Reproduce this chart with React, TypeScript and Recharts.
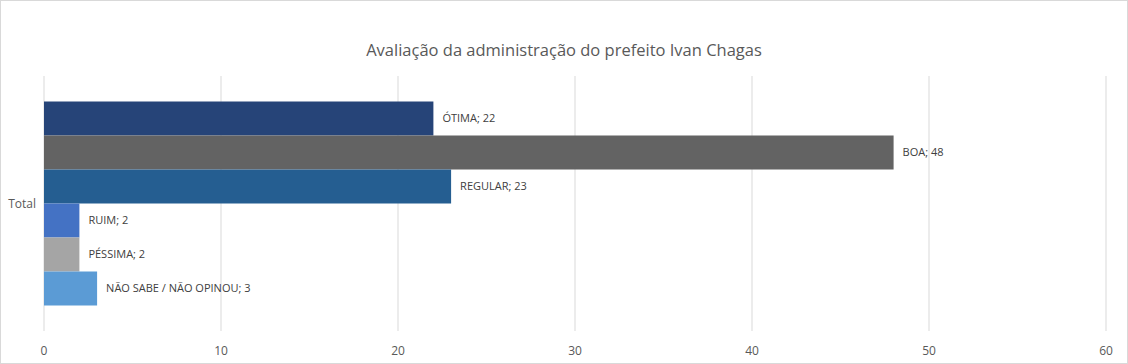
import { BarChart, Bar, XAxis, YAxis, CartesianGrid, LabelList } from 'recharts';

const categories = ['Total'];
const seriesNames = ['ÓTIMA', 'BOA', 'REGULAR', 'RUIM', 'PÉSSIMA', 'NÃO SABE / NÃO OPINOU'];
const seriesValues = [22, 48, 23, 2, 2, 3];
const xTicks = [0, 10, 20, 30, 40, 50, 60];

const seriesColors = ['#264478', '#636363', '#255e91', '#4472c4', '#a5a5a5', '#5b9bd5'];

const data = categories.map((cat) => {
  const row: Record<string, string | number> = { name: cat };
  seriesNames.forEach((s, i) => {
    row[s] = seriesValues[i];
  });
  return row;
});

const font = '"Open Sans", sans-serif';

export default function App() {
  return (
    <div
      style={{
        position: 'absolute',
        left: 0,
        top: 0,
        width: 1128,
        height: 364,
        boxSizing: 'border-box',
        border: '1px solid #d9d9d9',
        background: '#fff',
        fontFamily: font,
      }}
    >
      <div
        style={{
          position: 'absolute',
          left: 0,
          right: 0,
          top: 37,
          textAlign: 'center',
          fontSize: 16.5,
          color: '#595959',
        }}
      >
        Avaliação da administração do prefeito Ivan Chagas
      </div>
      <BarChart
        width={1126}
        height={362}
        data={data}
        layout="vertical"
        margin={{ top: 75, right: 21, bottom: 0, left: 0 }}
        barCategoryGap="10%"
        barGap={0}
      >
        <CartesianGrid horizontal={false} stroke="#d9d9d9" />
        <XAxis
          type="number"
          domain={[0, 60]}
          ticks={xTicks}
          axisLine={false}
          tickLine={false}
          tickMargin={9}
          height={32}
          tick={{ fill: '#595959', fontSize: 12, fontFamily: font }}
        />
        <YAxis
          type="category"
          dataKey="name"
          width={43}
          axisLine={false}
          tickLine={false}
          tick={{ fill: '#595959', fontSize: 12, fontFamily: font }}
        />
        {seriesNames.map((s, i) => (
          <Bar key={s} dataKey={s} fill={seriesColors[i]} isAnimationActive={false}>
            <LabelList
              dataKey={s}
              position="right"
              offset={9}
              formatter={(v: any) => `${s}; ${v}`}
              style={{ fill: '#404040', fontSize: 11, fontFamily: font }}
            />
          </Bar>
        ))}
      </BarChart>
    </div>
  );
}
